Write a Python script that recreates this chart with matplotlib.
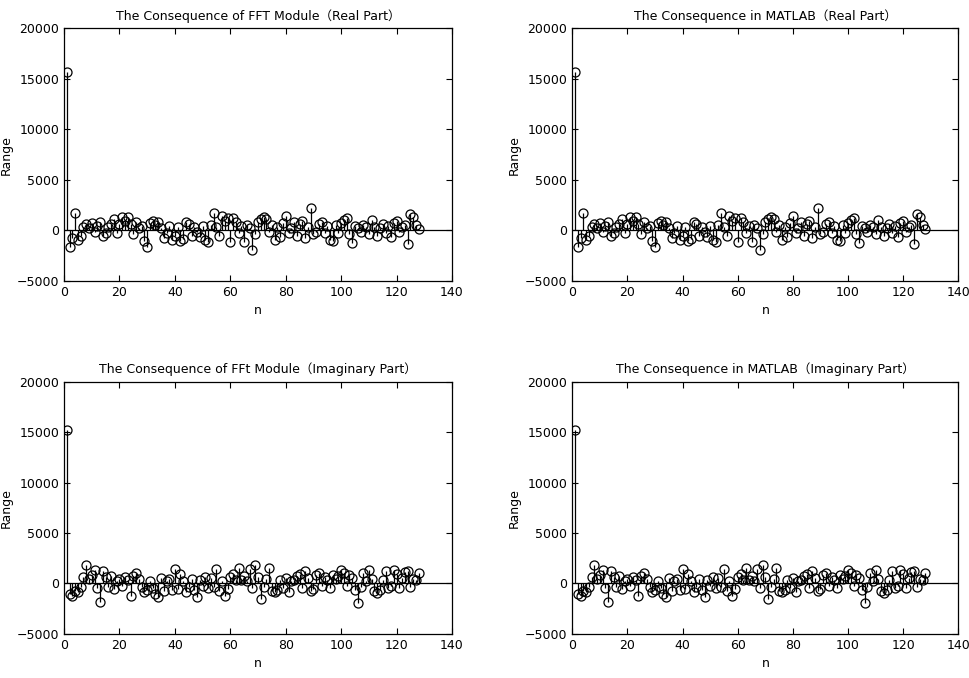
import matplotlib
matplotlib.use("Agg")
import matplotlib.pyplot as plt
import numpy as np

plt.rcParams['font.family'] = ['DejaVu Sans', 'Noto Sans CJK SC']

n = np.arange(1, 129)

# real part, n = 1..128
real_part = [15700, -1600, -700, 1700, -900, -500, 300, 600, 200, 700,
             -200, 400, 800, -500, -300, 300, 600, 1100, -300, 600,
             1300, 900, 1300, 600, -400, 800, 200, 400, -1000, -1600,
             700, 900, 500, 800, 200, -700, -300, 400, -900, -500,
             300, -1000, -800, 800, 600, -500, 300, -200, -600, 400,
             -900, -1100, 500, 1700, 300, -500, 1400, 900, 1200, -1100,
             1200, 800, -300, 400, -1100, 500, 200, -1900, -400, 800,
             1100, 1300, 1100, -200, 500, -900, 300, -600, 700, 1400,
             -300, 200, 800, -500, 600, 900, -700, 300, 2200, -400,
             -200, 600, 800, -300, 400, -900, -1000, 500, -300, 700,
             1000, 1200, -400, -1200, 400, 200, -200, 500, 300, -400,
             1000, 300, -500, 200, 600, -300, 400, -600, 700, 900,
             -200, 300, 500, -1300, 1600, 1300, 500, 100]

# imaginary part, n = 1..128
imag_part = [15200, -1000, -1200, -700, -800, -300, 600, 1800, 400, 800,
             1300, -400, -1800, 1200, 600, -300, 700, -500, 200, 400,
             -200, 600, 300, -1200, 700, 1000, 400, -300, -800, -600,
             200, -400, -1000, -1300, 500, -700, 200, 400, -600, 1400,
             -500, 900, 200, -800, -300, 400, -600, -1300, 300, -200,
             600, -400, 500, -300, 1400, -700, 200, -1200, -500, 600,
             900, 300, 1500, 300, 700, 200, 1400, -400, 1800, 600,
             -1500, -300, 400, 1500, -700, -800, -600, 300, -400, 500,
             -800, 200, 300, 700, 900, -400, 1200, 500, -700, -500,
             800, 1000, -200, 600, 300, -400, 800, 400, 700, 1300,
             1000, -200, 800, 500, -600, -1900, -300, 1000, 200, 1300,
             400, -700, -900, -600, 300, 1200, -400, -200, 1300, 900,
             -400, 500, 1100, 1200, -300, 400, 300, 1000]

titles = ["The Consequence of FFT Module\uff08Real Part\uff09",
          "The Consequence in MATLAB\uff08Real Part\uff09",
          "The Consequence of FFt Module\uff08Imaginary Part\uff09",
          "The Consequence in MATLAB\uff08Imaginary Part\uff09"]
series = [real_part, real_part, imag_part, imag_part]

fig = plt.figure(figsize=(9.7, 6.78), dpi=100)
positions = [[0.066, 0.5855, 0.400, 0.373],
             [0.590, 0.5855, 0.398, 0.373],
             [0.066, 0.065, 0.400, 0.372],
             [0.590, 0.065, 0.398, 0.372]]

for pos, title, vals in zip(positions, titles, series):
    ax = fig.add_axes(pos)
    ml, sl, bl = ax.stem(n, vals, linefmt='k-', markerfmt='ko', basefmt='k-')
    ml.set_markerfacecolor('none')
    ml.set_markersize(6.5)
    ml.set_markeredgewidth(0.9)
    sl.set_linewidth(0.9)
    bl.set_xdata([0, 140])
    bl.set_linewidth(0.9)
    ax.set_xlim(0, 140)
    ax.set_ylim(-5000, 20000)
    ax.set_xticks(np.arange(0, 141, 20))
    ax.set_yticks(np.arange(-5000, 20001, 5000))
    ax.tick_params(direction='in', length=4, labelsize=9, top=True, right=True,
                   labeltop=False, labelright=False)
    ax.set_xlabel('n', fontsize=9)
    ax.set_ylabel('Range', fontsize=9, labelpad=3)
    ax.set_title(title, fontsize=9)
    for s in ax.spines.values():
        s.set_linewidth(0.9)

fig.savefig('out.png', dpi=100)
